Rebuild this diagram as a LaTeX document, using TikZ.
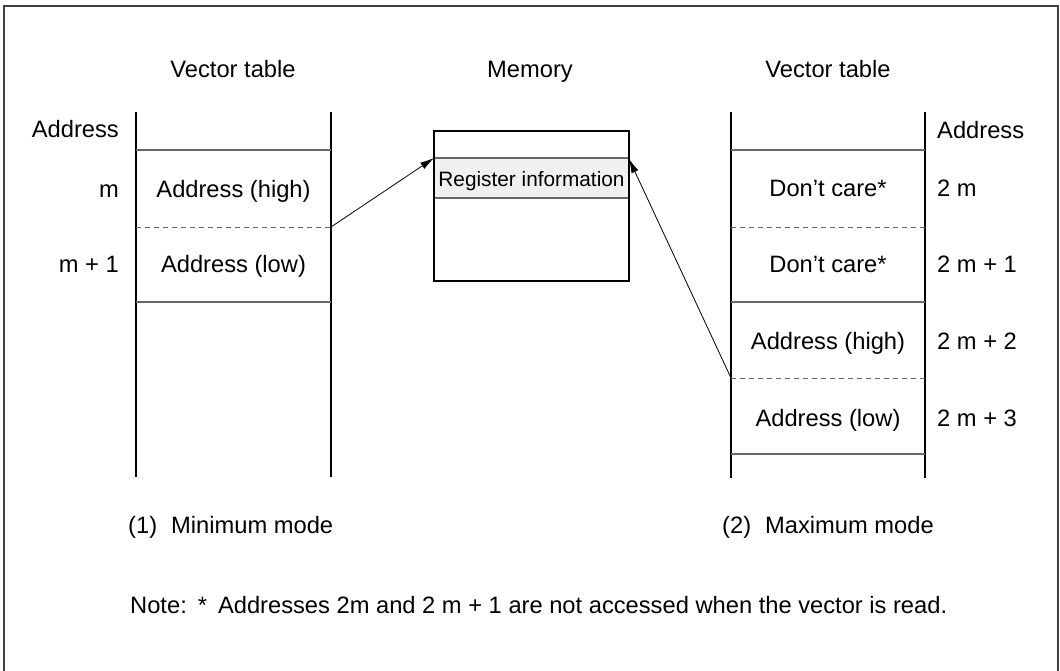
\documentclass[tikz,border=0pt]{standalone}
\usepackage{fontspec}
\setmainfont{Liberation Sans}
\usetikzlibrary{arrows.meta}
\begin{document}
\begin{tikzpicture}[x=1pt,y=-1pt,
  txt/.style={font=\fontsize{23.7}{28}\selectfont, inner sep=0pt, anchor=base},
  vline/.style={line width=1.5pt, black},
  hline/.style={line width=1.3pt, black!60},
  dline/.style={line width=1pt, black!60, dash pattern=on 5pt off 4pt},
  memline/.style={line width=1.5pt, black},
  arr/.style={line width=0.8pt, black, -{Latex[length=14pt,width=7.5pt]}}]
\useasboundingbox (0,0) rectangle (1060,670);
% frame
\draw[line width=1.5pt, black!75] (4,675) -- (4,6) -- (1058,6) -- (1058,675);

% titles
\node[txt] (t1) at (233,77) {Vector table};
\node[txt] (t2) at (530,77) {Memory};
\node[txt] (t3) at (828,77) {Vector table};

% left table
\draw[vline] (136,112) -- (136,477);
\draw[vline] (331,112) -- (331,477);
\draw[hline] (136,150) -- (331,150);
\draw[dline] (136,227) -- (331,227);
\draw[hline] (136,302) -- (331,302);
\coordinate (L1) at (331,227);
\node[txt, anchor=base east] (la0) at (119,137) {Address};
\node[txt, anchor=base east] (la1) at (119,197) {m};
\node[txt, anchor=base east] (la2) at (119,272) {m + 1};
\node[txt] (lc1) at (233.5,197) {Address (high)};
\node[txt] (lc2) at (233.5,272) {Address (low)};

% memory
\path[fill=black!6] (434,158) rectangle (629,198);
\draw[hline, line width=1.5pt] (434,158) -- (629,158);
\draw[hline, line width=1.5pt] (434,198) -- (629,198);
\draw[memline] (434,131) rectangle (629,281);
\coordinate (regNW) at (434,158);
\coordinate (regNE) at (629,159);
\node[txt, font=\fontsize{20.8}{24}\selectfont] (reg) at (531.5,186) {Register information};

% right table
\draw[vline] (731,112) -- (731,478);
\draw[vline] (925,112) -- (925,478);
\draw[hline] (731,150) -- (925,150);
\draw[dline] (731,227) -- (925,227);
\draw[hline] (731,302) -- (925,302);
\draw[dline] (731,378) -- (925,378);
\draw[hline] (731,454) -- (925,454);
\coordinate (R1) at (731,378);
\node[txt, anchor=base west] (ra0) at (937,138) {Address};
\node[txt, anchor=base west] (ra1) at (937,196) {2 m};
\node[txt, anchor=base west] (ra2) at (937,272) {2 m + 1};
\node[txt, anchor=base west] (ra3) at (937,349) {2 m + 2};
\node[txt, anchor=base west] (ra4) at (937,426) {2 m + 3};
\node[txt] (rc1) at (828,196) {Don’t care*};
\node[txt] (rc2) at (828,272) {Don’t care*};
\node[txt] (rc3) at (828,349) {Address (high)};
\node[txt] (rc4) at (828,426) {Address (low)};

% arrows
\draw[arr] (L1) -- (regNW);
\draw[arr] (R1) -- (regNE);

% captions
\node[txt, anchor=base west] (m1) at (128,533) {(1)\hspace{14pt}Minimum mode};
\node[txt, anchor=base west] (m2) at (722,533) {(2)\hspace{14pt}Maximum mode};
\node[txt, anchor=base west] (note) at (130,613) {Note:\hspace{11pt}*\hspace{11pt}Addresses 2m and 2 m + 1 are not accessed when the vector is read.};
\end{tikzpicture}
\end{document}
